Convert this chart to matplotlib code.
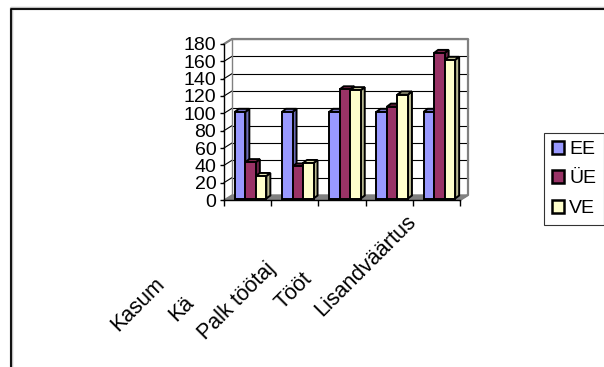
import numpy as np
import matplotlib.pyplot as plt
from matplotlib.patches import Polygon, Rectangle, Patch
from matplotlib.lines import Line2D

plt.rcParams["font.family"] = ["Liberation Sans", "DejaVu Sans"]

# chart data
categories = ["Kasum", "Kä", "Palk töötaj", "Tööt", "Lisandväärtus"]
series_names = ["EE", "ÜE", "VE"]
ee = [100, 100, 100, 100, 100]
ue = [42, 37, 126, 106, 168]
ve = [26, 41, 125, 120, 160]
yticks = list(range(0, 181, 20))

face_colors = ["#9999ff", "#993366", "#ffffcc"]
side_colors = ["#6b6bb8", "#6a2347", "#b8b890"]
top_colors = ["#8585e0", "#84284f", "#e0e0b0"]

W, H = 604, 367
fig = plt.figure(figsize=(W / 100, H / 100), dpi=100)

# front plane of the plot area, in pixels
x0_px, x1_px, y0_px, y1_px = 224, 460, 200, 44
ax = fig.add_axes([x0_px / W, 1 - y0_px / H,
                   (x1_px - x0_px) / W, (y0_px - y1_px) / H])
n = len(categories)
ax.set_xlim(0, n)
ax.set_ylim(0, 180)

# pixel -> data conversion
px = n / (x1_px - x0_px)
py = 180 / (y0_px - y1_px)

# wall depth
dx, dy = 8 * px, 5 * py

# floor
ax.add_patch(Polygon([(0, 0), (n, 0), (n + dx, dy), (dx, dy)],
                     closed=True, facecolor="#808080", edgecolor="#808080",
                     lw=1, clip_on=False, zorder=1))

# gridlines on back wall and side wall
for t in yticks[1:]:
    ax.plot([dx, n + dx], [t + dy, t + dy], color="black", lw=0.8,
            clip_on=False, zorder=1)
    ax.plot([0, dx], [t, t + dy], color="black", lw=0.8,
            clip_on=False, zorder=1)

# wall outline
ax.plot([0, dx, n + dx, n + dx, n], [180, 180 + dy, 180 + dy, dy, 0],
        color="#808080", lw=1.6, clip_on=False, zorder=1)
ax.plot([dx, dx], [dy, 180 + dy], color="#808080", lw=1.0,
        clip_on=False, zorder=1)

# 3d bars
bw = 10.5 * px
bx, by = 3 * px, 1.5 * py
ddx, ddy = 4 * px, 3 * py
values = [ee, ue, ve]
for i in range(n):
    for j, vals in enumerate(values):
        v = vals[i]
        left = i + 0.5 + (j - 1.5) * bw + bx
        right = left + bw
        top = v + by
        ax.add_patch(Polygon([(right, by), (right, top),
                              (right + ddx, top + ddy), (right + ddx, by + ddy)],
                             closed=True, facecolor=side_colors[j],
                             edgecolor="black", lw=1.4, clip_on=False,
                             zorder=3, joinstyle="miter"))
        ax.add_patch(Polygon([(left, top), (right, top),
                              (right + ddx, top + ddy), (left + ddx, top + ddy)],
                             closed=True, facecolor=top_colors[j],
                             edgecolor="black", lw=1.4, clip_on=False,
                             zorder=3, joinstyle="miter"))
        ax.add_patch(Rectangle((left, by), bw, v, facecolor=face_colors[j],
                               edgecolor="black", lw=1.4, clip_on=False,
                               zorder=3, joinstyle="miter"))

# axes lines and ticks
for s in ["top", "right"]:
    ax.spines[s].set_visible(False)
ax.spines["left"].set_linewidth(1.0)
ax.spines["bottom"].set_linewidth(1.0)
ax.spines["left"].set_zorder(4)
ax.spines["bottom"].set_zorder(4)
ax.set_facecolor("none")
ax.set_yticks(yticks)
ax.tick_params(axis="y", direction="out", length=3, width=1, pad=2.5,
               labelsize=14)
ax.set_xticks(range(n + 1))
ax.set_xticklabels([])
ax.tick_params(axis="x", direction="out", length=4, width=1)

# rotated category labels
drops = [132, 122, 140, 110, 117]
for i, (lab, d) in enumerate(zip(categories, drops)):
    ax.text(i + 0.5 + 3 * px - d * px, -d * py, lab, rotation=45,
            rotation_mode="anchor", ha="left", va="baseline",
            fontsize=15.5, clip_on=False)

# legend
handles = [Patch(facecolor=c, edgecolor="black", lw=1.8) for c in face_colors]
leg = fig.legend(handles, series_names, loc="upper left",
                 bbox_to_anchor=(544 / W, 1 - 133 / H), fontsize=14,
                 frameon=True, fancybox=False, edgecolor="black",
                 handlelength=0.65, handleheight=0.65, handletextpad=0.25,
                 labelspacing=0.62, borderpad=0.4, borderaxespad=0)
leg.get_frame().set_linewidth(0.8)

# outer chart border
fig.add_artist(Line2D([10.5 / W, 10.5 / W, 1.01], [-0.01, 1 - 8 / H, 1 - 8 / H],
                      transform=fig.transFigure, color="#c0c0c0", lw=2.5))
fig.add_artist(Line2D([11 / W, 11 / W, 1.01], [-0.01, 1 - 8.5 / H, 1 - 8.5 / H],
                      transform=fig.transFigure, color="black", lw=1.3))

fig.savefig("out.png", dpi=100)
